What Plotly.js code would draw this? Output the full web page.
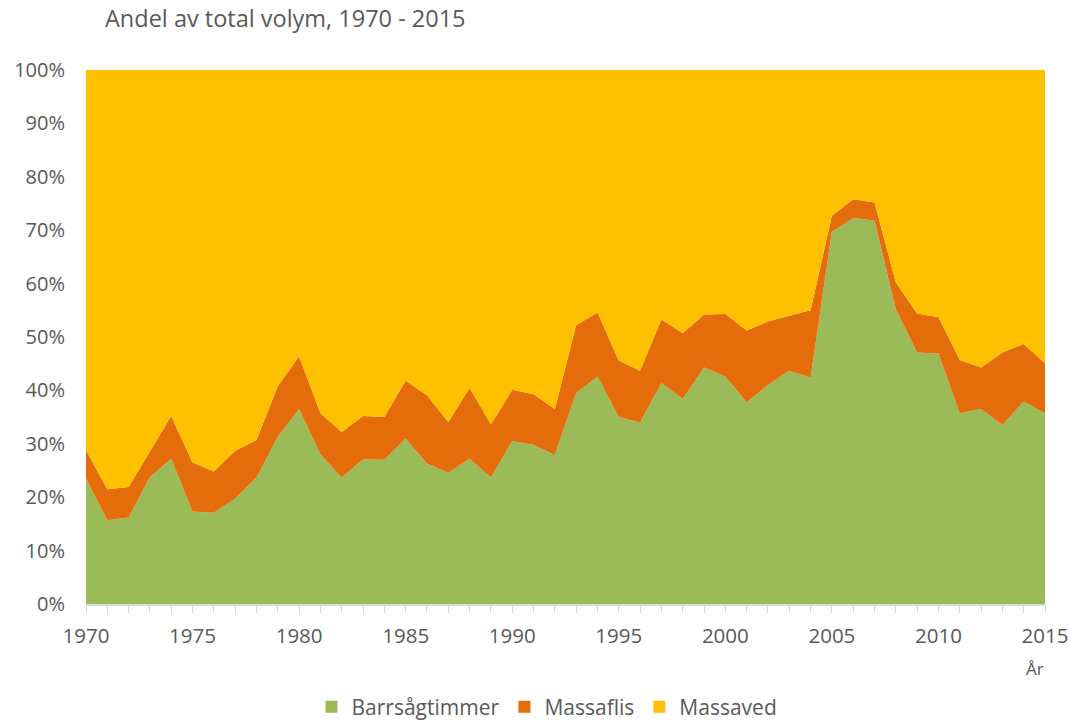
<!DOCTYPE html>
<html>
<head>
<meta charset="utf-8">
<script src="https://cdn.plot.ly/plotly-3.0.1.min.js"></script>
<style>html,body{margin:0;padding:0;background:#fff;}#chart{width:1070px;height:724px;}</style>
</head>
<body>
<div id="chart"></div>
<script>
const years = [];
for (let y = 1970; y <= 2015; y++) years.push(y);

const barrsagtimmer = [23.5,15.7,16.2,23.8,27.2,17.3,17.1,19.7,23.7,31.3,
  36.5,28.0,23.7,27.1,27.0,31.0,26.3,24.6,27.2,23.7,
  30.5,29.8,27.9,39.5,42.6,35.0,34.0,41.4,38.4,44.3,
  42.6,37.8,41.0,43.7,42.4,69.7,72.3,71.8,55.2,47.1,
  46.9,35.7,36.5,33.5,37.9,35.7];
const massaflis = [5.3,5.8,5.7,4.7,8.0,9.2,7.7,9.0,7.0,9.5,
  9.9,7.7,8.5,8.1,8.0,10.8,12.8,9.5,13.3,9.9,
  9.6,9.5,8.6,12.7,12.0,10.6,9.7,11.9,12.3,9.9,
  11.7,13.4,11.9,10.3,12.6,3.0,3.5,3.4,5.0,7.3,
  6.8,10.0,7.8,13.6,10.8,9.4];
const massaved = [71.2,78.5,78.1,71.5,64.8,73.5,75.2,71.3,69.3,59.2,
  53.6,64.3,67.8,64.8,65.0,58.2,60.9,65.9,59.5,66.4,
  59.9,60.7,63.5,47.8,45.4,54.4,56.3,46.7,49.3,45.8,
  45.7,48.8,47.1,46.0,45.0,27.3,24.2,24.8,39.8,45.6,
  46.3,54.3,55.7,52.9,51.3,54.9];

const seriesNames = ['Barrsågtimmer','Massaflis','Massaved'];
const seriesColors = ['#9BBB59','#E46C0A','#FFC000'];
const seriesData = [barrsagtimmer, massaflis, massaved];

const traces = seriesData.map((d, i) => ({
  x: years, y: d, name: seriesNames[i], type: 'scatter', mode: 'lines',
  stackgroup: 'one', groupnorm: i === 0 ? 'percent' : undefined,
  line: {width: 0, color: seriesColors[i]}, fillcolor: seriesColors[i],
  showlegend: false
}));
// legend entries with square swatches
seriesNames.forEach((n, i) => traces.push({
  x: [null], y: [null], name: n, type: 'scatter', mode: 'markers',
  marker: {symbol: 'square', size: 14, color: seriesColors[i]}, showlegend: true
}));

const font = {family: 'Open Sans, sans-serif', color: '#595959'};

const layout = {
  width: 1070, height: 724,
  margin: {l: 86, r: 25, t: 70, b: 120},
  paper_bgcolor: '#fff', plot_bgcolor: '#fff',
  font: Object.assign({size: 20}, font),
  title: {text: 'Andel av total volym, 1970 - 2015', x: 105/1070, xanchor: 'left', xref: 'container',
          y: 1 - 19/724, yanchor: 'middle', yref: 'container', font: Object.assign({size: 23.5}, font)},
  xaxis: {range: [1970, 2015], tickvals: [1970,1975,1980,1985,1990,1995,2000,2005,2010,2015],
          ticks: 'outside', ticklen: 7, tickcolor: '#d9d9d9', showline: true, linecolor: '#d9d9d9', linewidth: 1.5,
          minor: {dtick: 1, ticks: 'outside', ticklen: 7, tickcolor: '#d9d9d9'},
          ticklabelstandoff: 6,
          showgrid: false, zeroline: false, tickfont: Object.assign({size: 20.5}, font)},
  yaxis: {range: [0, 100], dtick: 10, ticksuffix: '%', showgrid: false, zeroline: false, showline: false,
          ticks: '', ticklabelstandoff: 20, tickfont: Object.assign({size: 20}, font)},
  legend: {orientation: 'h', x: 547/1070, xanchor: 'center', xref: 'container', y: 17/724, yanchor: 'middle', yref: 'container',
           traceorder: 'normal', font: Object.assign({size: 21}, font), itemwidth: 30, itemsizing: 'constant'},
  showlegend: true,
  annotations: [{text: 'År', xref: 'paper', yref: 'paper', x: 1, y: -(668-604)/534, xanchor: 'center', yanchor: 'middle',
                 xshift: -10, showarrow: false, font: Object.assign({size: 17}, font)}]
};

Plotly.newPlot('chart', traces, layout, {displayModeBar: false, staticPlot: true});
</script>
</body>
</html>
